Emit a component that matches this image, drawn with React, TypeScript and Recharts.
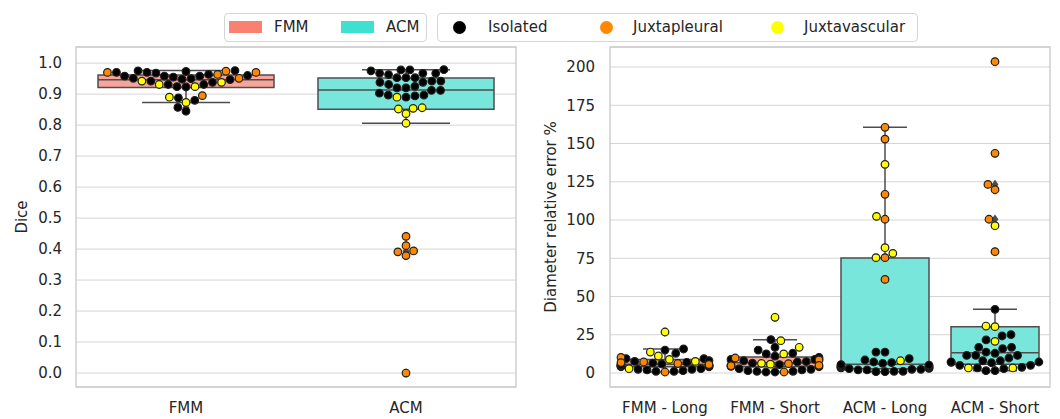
import React from 'react';
import { ComposedChart, Scatter, XAxis, YAxis, CartesianGrid, ReferenceArea, ReferenceLine } from 'recharts';

const FONT = '"DejaVu Sans", sans-serif';
const INK = '#262626';
const LINE = '#4d4d4d';
const SALMON = '#fa8072';
const TURQUOISE = '#40e0d0';
const SALMON_BOX = '#f8a49a';
const TURQUOISE_BOX = '#79e6dc';
const HUES = ['Isolated', 'Juxtapleural', 'Juxtavascular'];
const HUE_COLORS = ['#000000', '#ff8800', '#ffff00'];

// ---- Dice (left panel) ----
const diceCategories = ['FMM', 'ACM'];
const diceTicks = [0, 0.1, 0.2, 0.3, 0.4, 0.5, 0.6, 0.7, 0.8, 0.9, 1.0];

const diceFmmIsolated = [0.975, 0.9635, 0.973, 0.970, 0.960, 0.958, 0.958, 0.958, 0.968, 0.970, 0.976, 0.948, 0.951,
  0.947, 0.942, 0.938, 0.931, 0.924, 0.923, 0.931, 0.880, 0.888, 0.845, 0.857, 0.955, 0.950];
const diceFmmJuxtapleural = [0.9635, 0.951, 0.974, 0.970, 0.970, 0.895];
const diceFmmJuxtavascular = [0.931, 0.924, 0.938, 0.942, 0.873, 0.890];

const diceAcmIsolated = [0.967, 0.978, 0.953, 0.963, 0.975, 0.979, 0.953, 0.967, 0.953, 0.967, 0.978, 0.938, 0.942,
  0.938, 0.931, 0.942, 0.920, 0.920, 0.925, 0.912, 0.912, 0.903, 0.897, 0.890, 0.894, 0.897];
const diceAcmJuxtapleural = [0.441, 0.411, 0.391, 0.394, 0.379, 0.0];
const diceAcmJuxtavascular = [0.890, 0.854, 0.837, 0.852, 0.856, 0.806];

const diceQ1 = [0.921, 0.851];
const diceMedian = [0.946, 0.913];
const diceQ3 = [0.962, 0.952];
const diceLow = [0.873, 0.806];
const diceHigh = [0.976, 0.979];

// ---- Diameter relative error (right panel) ----
const errCategories = ['FMM - Long', 'FMM - Short', 'ACM - Long', 'ACM - Short'];
const errTicks = [0, 25, 50, 75, 100, 125, 150, 175, 200];

const errFmmLongIsolated = [15.7, 15.0, 12.9, 9.4, 8.1, 7.6, 9.4, 4.1, 2.4, 1.5, 1.1, 1.1, 2.0, 2.4, 2.8, 4.1,
  4.3, 4.5, 4.7, 4.9, 5.1, 5.3, 5.5, 5.9, 6.5, 7.0];
const errFmmLongJuxtapleural = [10.2, 6.8, 7.2, 0.65, 5.6, 6.2];
const errFmmLongJuxtavascular = [26.8, 13.7, 7.6, 8.9, 11.1, 2.8];

const errFmmShortIsolated = [21.8, 16.8, 15.0, 12.9, 12.5, 10.2, 8.9, 8.9, 8.9, 7.2, 4.1, 2.4, 1.1, 0.65, 0.65,
  1.1, 1.5, 2.0, 2.8, 4.4, 5.2, 5.5, 6.4, 7.5, 8.0, 11.0];
const errFmmShortJuxtapleural = [8.5, 9.8, 6.1, 0.65, 5.0, 4.7];
const errFmmShortJuxtavascular = [36.4, 21.1, 16.8, 12.5, 6.3, 5.8];

const errAcmLongIsolated = [13.7, 13.7, 8.5, 7.2, 6.3, 6.8, 9.4, 3.3, 2.4, 2.0, 1.1, 0.87, 0.87, 1.1, 2.0, 2.4,
  2.8, 3.7, 3.0, 3.5, 4.0, 4.2, 4.5, 4.8, 5.2, 5.5];
const errAcmLongJuxtapleural = [160.6, 152.9, 116.8, 100.5, 75.4, 61.2];
const errAcmLongJuxtavascular = [136.4, 102.4, 81.9, 78.2, 75.4, 8.0];

const errAcmShortIsolated = [41.6, 24.2, 25.1, 21.6, 16.8, 15.9, 16.8, 13.7, 11.5, 12.9, 11.5, 11.5, 8.0, 9.8,
  8.0, 7.2, 5.0, 6.7, 7.0, 3.3, 1.5, 1.5, 2.8, 3.7, 5.0, 7.2];
const errAcmShortJuxtapleural = [203.5, 143.6, 123.3, 119.8, 100.5, 79.3];
const errAcmShortJuxtavascular = [96.3, 30.7, 30.3, 20.7, 3.3, 3.3];

const errQ1 = [4.1, 4.1, 2.8, 5.7];
const errMedian = [5.7, 6.7, 5.8, 13.3];
const errQ3 = [8.8, 10.5, 75.2, 30.3];
const errLow = [0.65, 0.65, 0.87, 1.5];
const errHigh = [15.7, 21.8, 160.6, 41.6];

// ---- layout ----
const HEIGHT = 419;
const TOP = 47;
const X_AXIS_H = 32;
const PLOT_H = HEIGHT - TOP - X_AXIS_H;
const PLOT_W = 440;
const R = 4.3; // dot radius used for swarm spacing, px

// seaborn-style beeswarm, works in pixels, returns x offsets
function beeswarm(ys: number[], r: number, half: number): number[] {
  const order = ys.map((_, i) => i).sort((a, b) => ys[a] - ys[b] || a - b);
  const placed: { x: number; y: number }[] = [];
  const out = new Array(ys.length).fill(0);
  for (const i of order) {
    const y = ys[i];
    const nb: { x: number; y: number }[] = [];
    for (let k = placed.length - 1; k >= 0; k--) {
      if (y - placed[k].y < 2 * r) nb.push(placed[k]);
      else break;
    }
    const cands = [0];
    let leftFirst = true;
    for (const p of nb) {
      const dy = y - p.y;
      const dx = Math.sqrt(Math.max(4 * r * r - dy * dy, 0)) * 1.05;
      if (leftFirst) cands.push(p.x - dx, p.x + dx);
      else cands.push(p.x + dx, p.x - dx);
      leftFirst = !leftFirst;
    }
    const idx = cands.map((_, j) => j).sort((a, b) => Math.abs(cands[a]) - Math.abs(cands[b]) || a - b);
    let chosen = 0;
    for (const j of idx) {
      const cx = cands[j];
      if (nb.every((p) => (p.x - cx) ** 2 + (p.y - y) ** 2 >= 4 * r * r - 1e-6)) {
        chosen = cx;
        break;
      }
    }
    placed.push({ x: chosen, y });
    out[i] = Math.max(-half, Math.min(half, chosen));
  }
  return out;
}

const Dot = (props: any) => {
  const { cx, cy, payload } = props;
  return <circle cx={cx} cy={cy} r={3.8} fill={HUE_COLORS[payload.hue]} stroke="#1f1f1f" strokeWidth={1.2} />;
};

const Diamond = (props: any) => {
  const { cx, cy } = props;
  return <path d={`M${cx},${cy - 4.8}L${cx + 3.4},${cy}L${cx},${cy + 4.8}L${cx - 3.4},${cy}Z`} fill={LINE} />;
};

interface PanelProps {
  left: number;
  width: number;
  yAxisWidth: number;
  rightMargin: number;
  tickMargin: number;
  categories: string[];
  groups: number[][][];
  boxColors: string[];
  q1: number[];
  med: number[];
  q3: number[];
  lo: number[];
  hi: number[];
  domain: [number, number];
  ticks: number[];
  fmt: (v: number) => string;
  label: string;
  labelX: number;
}

function Panel(p: PanelProps) {
  const n = p.categories.length;
  const pxX = PLOT_W / n;
  const pxY = PLOT_H / (p.domain[1] - p.domain[0]);
  const points: { x: number; y: number; hue: number }[] = [];
  const fliers: { x: number; y: number }[] = [];
  p.groups.forEach((hues, c) => {
    const vals: number[] = [];
    const hs: number[] = [];
    hues.forEach((arr, h) => arr.forEach((v) => { vals.push(v); hs.push(h); }));
    const off = beeswarm(vals.map((v) => v * pxY), R, 0.4 * pxX);
    vals.forEach((v, i) => {
      points.push({ x: c + off[i] / pxX, y: v, hue: hs[i] });
      if (v > p.hi[c] || v < p.lo[c]) fliers.push({ x: c, y: v });
    });
  });
  const xMin = -0.5;
  const xMax = n - 0.5;
  const tickStyle = { fontSize: 15, fill: INK, fontFamily: FONT };

  return (
    <div style={{ position: 'absolute', left: p.left, top: 0 }}>
      <ComposedChart width={p.width} height={HEIGHT} margin={{ top: TOP, right: p.rightMargin, bottom: 0, left: 0 }}>
        <CartesianGrid horizontal vertical={false} stroke="#d5d5d5" strokeWidth={1} />
        <XAxis
          type="number"
          dataKey="x"
          domain={[xMin, xMax]}
          ticks={p.categories.map((_, i) => i)}
          tickFormatter={(i: number) => p.categories[i]}
          interval={0}
          allowDataOverflow
          axisLine={false}
          tickLine={false}
          height={X_AXIS_H}
          tickMargin={9}
          tick={tickStyle}
        />
        <YAxis
          type="number"
          dataKey="y"
          domain={p.domain}
          ticks={p.ticks}
          tickFormatter={p.fmt}
          interval={0}
          allowDataOverflow
          axisLine={false}
          tickLine={false}
          width={p.yAxisWidth}
          tickMargin={p.tickMargin}
          tick={tickStyle}
          label={{
            content: () => (
              <text
                x={p.labelX}
                y={TOP + PLOT_H / 2}
                transform={`rotate(-90, ${p.labelX}, ${TOP + PLOT_H / 2})`}
                textAnchor="middle"
                dominantBaseline="central"
                fontSize={15}
                fontFamily={FONT}
                fill={INK}
              >
                {p.label}
              </text>
            ),
          }}
        />
        <ReferenceArea x1={xMin} x2={xMax} y1={p.domain[0]} y2={p.domain[1]} fill="none" stroke="#cccccc" strokeWidth={1.4} />
        {p.categories.map((_, c) => (
          <ReferenceArea
            key={`box${c}`}
            x1={c - 0.4}
            x2={c + 0.4}
            y1={p.q1[c]}
            y2={p.q3[c]}
            fill={p.boxColors[c]}
            fillOpacity={1}
            stroke={LINE}
            strokeWidth={1.5}
          />
        ))}
        {p.categories.map((_, c) => (
          <ReferenceLine key={`wl${c}`} segment={[{ x: c, y: p.lo[c] }, { x: c, y: p.q1[c] }]} stroke={LINE} strokeWidth={1.5} />
        ))}
        {p.categories.map((_, c) => (
          <ReferenceLine key={`wh${c}`} segment={[{ x: c, y: p.q3[c] }, { x: c, y: p.hi[c] }]} stroke={LINE} strokeWidth={1.5} />
        ))}
        {p.categories.map((_, c) => (
          <ReferenceLine key={`cl${c}`} segment={[{ x: c - 0.2, y: p.lo[c] }, { x: c + 0.2, y: p.lo[c] }]} stroke={LINE} strokeWidth={1.5} />
        ))}
        {p.categories.map((_, c) => (
          <ReferenceLine key={`ch${c}`} segment={[{ x: c - 0.2, y: p.hi[c] }, { x: c + 0.2, y: p.hi[c] }]} stroke={LINE} strokeWidth={1.5} />
        ))}
        {p.categories.map((_, c) => (
          <ReferenceLine key={`md${c}`} segment={[{ x: c - 0.4, y: p.med[c] }, { x: c + 0.4, y: p.med[c] }]} stroke={LINE} strokeWidth={1.5} />
        ))}
        <Scatter data={fliers} shape={Diamond} isAnimationActive={false} />
        <Scatter data={points} shape={Dot} isAnimationActive={false} />
      </ComposedChart>
    </div>
  );
}

const textStyle: React.CSSProperties = {
  position: 'absolute',
  top: 13,
  height: 29,
  lineHeight: '29px',
  fontSize: 15,
  fontFamily: FONT,
  color: INK,
  whiteSpace: 'nowrap',
};
const boxStyle: React.CSSProperties = {
  position: 'absolute',
  top: 13,
  height: 29,
  boxSizing: 'border-box',
  border: '1px solid #d5d5d5',
  borderRadius: 4,
  background: '#fff',
};

function LegendDot({ x, color }: { x: number; color: string }) {
  return (
    <div style={{ position: 'absolute', left: x - 6.5, top: 21, width: 13, height: 13, borderRadius: '50%', background: color }} />
  );
}

export default function App() {
  return (
    <div style={{ position: 'absolute', left: 0, top: 0, width: 1060, height: 419, background: '#fff', overflow: 'hidden' }}>
      <Panel
        left={0}
        width={530}
        yAxisWidth={76}
        rightMargin={14}
        tickMargin={8}
        categories={diceCategories}
        groups={[
          [diceFmmIsolated, diceFmmJuxtapleural, diceFmmJuxtavascular],
          [diceAcmIsolated, diceAcmJuxtapleural, diceAcmJuxtavascular],
        ]}
        boxColors={[SALMON_BOX, TURQUOISE_BOX]}
        q1={diceQ1}
        med={diceMedian}
        q3={diceQ3}
        lo={diceLow}
        hi={diceHigh}
        domain={[-0.045, 1.052]}
        ticks={diceTicks}
        fmt={(v) => v.toFixed(1)}
        label="Dice"
        labelX={22}
      />
      <Panel
        left={530}
        width={530}
        yAxisWidth={80}
        rightMargin={10}
        tickMargin={9}
        categories={errCategories}
        groups={[
          [errFmmLongIsolated, errFmmLongJuxtapleural, errFmmLongJuxtavascular],
          [errFmmShortIsolated, errFmmShortJuxtapleural, errFmmShortJuxtavascular],
          [errAcmLongIsolated, errAcmLongJuxtapleural, errAcmLongJuxtavascular],
          [errAcmShortIsolated, errAcmShortJuxtapleural, errAcmShortJuxtavascular],
        ]}
        boxColors={[SALMON_BOX, SALMON_BOX, TURQUOISE_BOX, TURQUOISE_BOX]}
        q1={errQ1}
        med={errMedian}
        q3={errQ3}
        lo={errLow}
        hi={errHigh}
        domain={[-9.15, 213.1]}
        ticks={errTicks}
        fmt={(v) => String(v)}
        label="Diameter relative error %"
        labelX={21}
      />
      <div style={{ ...boxStyle, left: 224, width: 203 }} />
      <div style={{ position: 'absolute', left: 229, top: 21, width: 33, height: 12, background: SALMON }} />
      <span style={{ ...textStyle, left: 274 }}>FMM</span>
      <div style={{ position: 'absolute', left: 341, top: 21, width: 33, height: 12, background: TURQUOISE }} />
      <span style={{ ...textStyle, left: 386 }}>ACM</span>
      <div style={{ ...boxStyle, left: 437, width: 481 }} />
      <LegendDot x={459} color={HUE_COLORS[0]} />
      <span style={{ ...textStyle, left: 488 }}>{HUES[0]}</span>
      <LegendDot x={606} color={HUE_COLORS[1]} />
      <span style={{ ...textStyle, left: 633 }}>{HUES[1]}</span>
      <LegendDot x={777} color={HUE_COLORS[2]} />
      <span style={{ ...textStyle, left: 804 }}>{HUES[2]}</span>
    </div>
  );
}
